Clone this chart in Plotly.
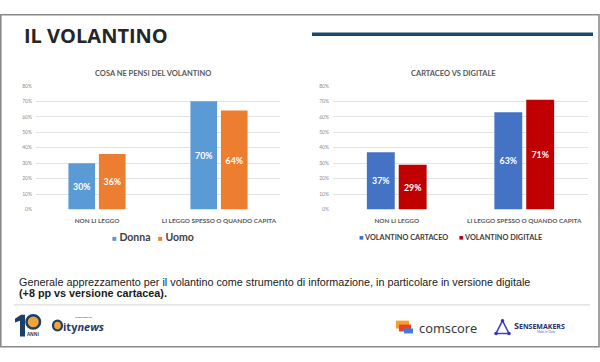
import plotly.graph_objects as go

# ---- data ----
categories = ["NON LI LEGGO", "LI LEGGO SPESSO O QUANDO CAPITA"]
donna = [30, 70]
uomo = [36, 64]
cartaceo = [37, 63]
digitale = [29, 71]
y_ticks = [0, 10, 20, 30, 40, 50, 60, 70, 80]

W, H = 600, 362
def px(x): return x / W
def py(y): return 1 - y / H

C_DONNA = "#5B9BD5"
C_UOMO = "#ED7D31"
C_CART = "#4472C4"
C_DIG = "#C00000"

fig = go.Figure()

def bar(name, x, y, color, xa, ya):
    return go.Bar(
        name=name, x=x, y=y, marker=dict(color=color, line=dict(width=0)),
        text=[f"{v}%" for v in y], texttemplate="%{text}", textposition="inside",
        insidetextanchor="middle", textangle=0,
        textfont=dict(family="Lato", size=8.8, color="white", weight="bold"),
        xaxis=xa, yaxis=ya, showlegend=False, hoverinfo="skip")

fig.add_trace(bar("Donna", categories, donna, C_DONNA, "x", "y"))
fig.add_trace(bar("Uomo", categories, uomo, C_UOMO, "x", "y"))
fig.add_trace(bar("VOLANTINO CARTACEO", categories, cartaceo, C_CART, "x2", "y2"))
fig.add_trace(bar("VOLANTINO DIGITALE", categories, digitale, C_DIG, "x2", "y2"))

ydom = [py(210), py(84.3)]
xaxis_common = dict(showgrid=False, showline=False, zeroline=False, ticks="",
                    tickfont=dict(family="Lato", size=6.4, color="#595959", weight="bold"),
                    ticklabelstandoff=6, fixedrange=True)
yaxis_common = dict(range=[0, 80], tickvals=y_ticks, ticktext=[f"{v}%" for v in y_ticks],
                    showgrid=True, gridcolor="#e3e3e3", gridwidth=0.8, zeroline=False, showline=False,
                    ticks="", tickfont=dict(family="Lato", size=5, color="#8c8c8c"),
                    ticklabelstandoff=3, domain=ydom, fixedrange=True)

fig.update_layout(
    width=W, height=H, margin=dict(l=0, r=0, t=0, b=0),
    paper_bgcolor="white", plot_bgcolor="white",
    barmode="group", bargap=0.5, bargroupgap=0.125,
    xaxis=dict(domain=[px(36), px(280)], anchor="y", **xaxis_common),
    yaxis=dict(anchor="x", **yaxis_common),
    xaxis2=dict(domain=[px(333), px(588)], anchor="y2", **xaxis_common),
    yaxis2=dict(anchor="x2", **yaxis_common),
    showlegend=False,
)

shapes = []
# slide frame
shapes.append(dict(type="rect", xref="paper", yref="paper", x0=px(0.8), x1=px(599), y0=py(349.5), y1=py(12),
                   line=dict(color="#8a8a8a", width=1.6), fillcolor="rgba(0,0,0,0)", layer="below"))
# blue title rule
shapes.append(dict(type="line", xref="paper", yref="paper", x0=px(312), x1=px(593), y0=py(31.7), y1=py(31.7),
                   line=dict(color="#17496e", width=3.5)))
# footer rule
shapes.append(dict(type="line", xref="paper", yref="paper", x0=px(14), x1=px(590), y0=py(307), y1=py(307),
                   line=dict(color="#d3d3d3", width=1)))
# comscore icon
for (x0, y0, x1, y1, c) in [(396, 323, 409, 331, "#F5A02A"), (399, 327, 411, 334, "#E8412C"), (404, 331, 413, 336, "#3A7FD5")]:
    shapes.append(dict(type="rect", xref="paper", yref="paper", x0=px(x0), x1=px(x1), y0=py(y1), y1=py(y0),
                       line=dict(width=0), fillcolor=c))
# sensemakers triangle
shapes.append(dict(type="path", xref="paper", yref="paper",
                   path=f"M {px(502.5)},{py(323)} L {px(496)},{py(336)} L {px(509)},{py(336)} Z",
                   line=dict(color="#4040d0", width=1.6), fillcolor="rgba(0,0,0,0)"))
for (cx, cy) in [(502.5, 323), (496, 336), (509, 336)]:
    shapes.append(dict(type="circle", xref="paper", yref="paper", x0=px(cx - 1.8), x1=px(cx + 1.8),
                       y0=py(cy + 1.8), y1=py(cy - 1.8), line=dict(width=0), fillcolor="#3333bb"))
# 10 anni logo: "1" glyph as a shape + ring
one = [(15, 321), (21, 317), (25, 317), (25, 339), (20, 339), (20, 323), (15, 325)]
shapes.append(dict(type="path", xref="paper", yref="paper",
                   path="M " + " L ".join(f"{px(a)},{py(b)}" for a, b in one) + " Z",
                   line=dict(width=0), fillcolor="#1c3f66"))
shapes.append(dict(type="circle", xref="paper", yref="paper", x0=px(26.5), x1=px(40), y0=py(331), y1=py(317.5),
                   line=dict(color="#1c3f66", width=2.5), fillcolor="#f2a23a"))
# citynews C
shapes.append(dict(type="circle", xref="paper", yref="paper", x0=px(53), x1=px(62), y0=py(333), y1=py(323),
                   line=dict(color="#1c3f66", width=2.2), fillcolor="#f2a23a"))
fig.update_layout(shapes=shapes)

ann = []
def text(x, y, t, size, color="#404040", family="Lato", weight="normal", xanchor="left"):
    ann.append(dict(x=px(x), y=py(y), xref="paper", yref="paper", text=t, showarrow=False,
                    xanchor=xanchor, yanchor="middle", borderpad=0,
                    font=dict(family=family, size=size, color=color, weight=weight)))

text(23, 33.5, "IL VOLANTINO", 20, color="#262626", family="Open Sans", weight="bold")
text(153, 71.7, "COSA NE PENSI DEL VOLANTINO", 7.5, color="#595959", weight="bold", xanchor="center")
text(453, 71.7, "CARTACEO VS DIGITALE", 7.5, color="#595959", weight="bold", xanchor="center")

# legends
text(110.5, 237.7, f"<span style='color:{C_DONNA};font-size:8px'>■</span> Donna", 10.5, weight="bold")
text(157, 237.7, f"<span style='color:{C_UOMO};font-size:8px'>■</span> Uomo", 10.5, weight="bold")
text(358, 238.3, f"<span style='color:{C_CART};font-size:7.5px'>■</span> VOLANTINO CARTACEO", 7.3, weight="bold")
text(458, 238.3, f"<span style='color:{C_DIG};font-size:7.5px'>■</span> VOLANTINO DIGITALE", 7.3, weight="bold")

# body text
text(18, 283.5, "Generale apprezzamento per il volantino come strumento di informazione, in particolare in versione digitale",
     10.8, color="#1a1a1a", family="Liberation Sans")
text(18, 295, "(+8 pp vs versione cartacea).", 10.8, color="#1a1a1a", family="Liberation Sans", weight="bold")

# footer logos
text(33, 337, "ANNI", 4.5, color="#1c3f66", family="Open Sans", weight="bold", xanchor="center")
text(62, 328.5, "ity<i>news</i>", 11, color="#1f3c68", family="Open Sans", weight="bold")
text(84, 319.2, "Gruppo Editoriale", 2.2, color="#1f3c68", xanchor="center")
text(417.5, 330.5, "comscore", 12.8, color="#3a3a3a", family="Noto Sans")
text(513, 328, "<span style='font-size:9px'>S</span>ENSEMAKERS", 7, color="#2b2b6b", family="Open Sans", weight="bold")
text(546, 334.5, "Made in Data", 3, color="#5a5ad0", xanchor="center")

fig.update_layout(annotations=ann)
fig.write_html("out.html", config={"displayModeBar": False},
               post_script="document.body.style.margin='0px';document.body.style.overflow='hidden';")
